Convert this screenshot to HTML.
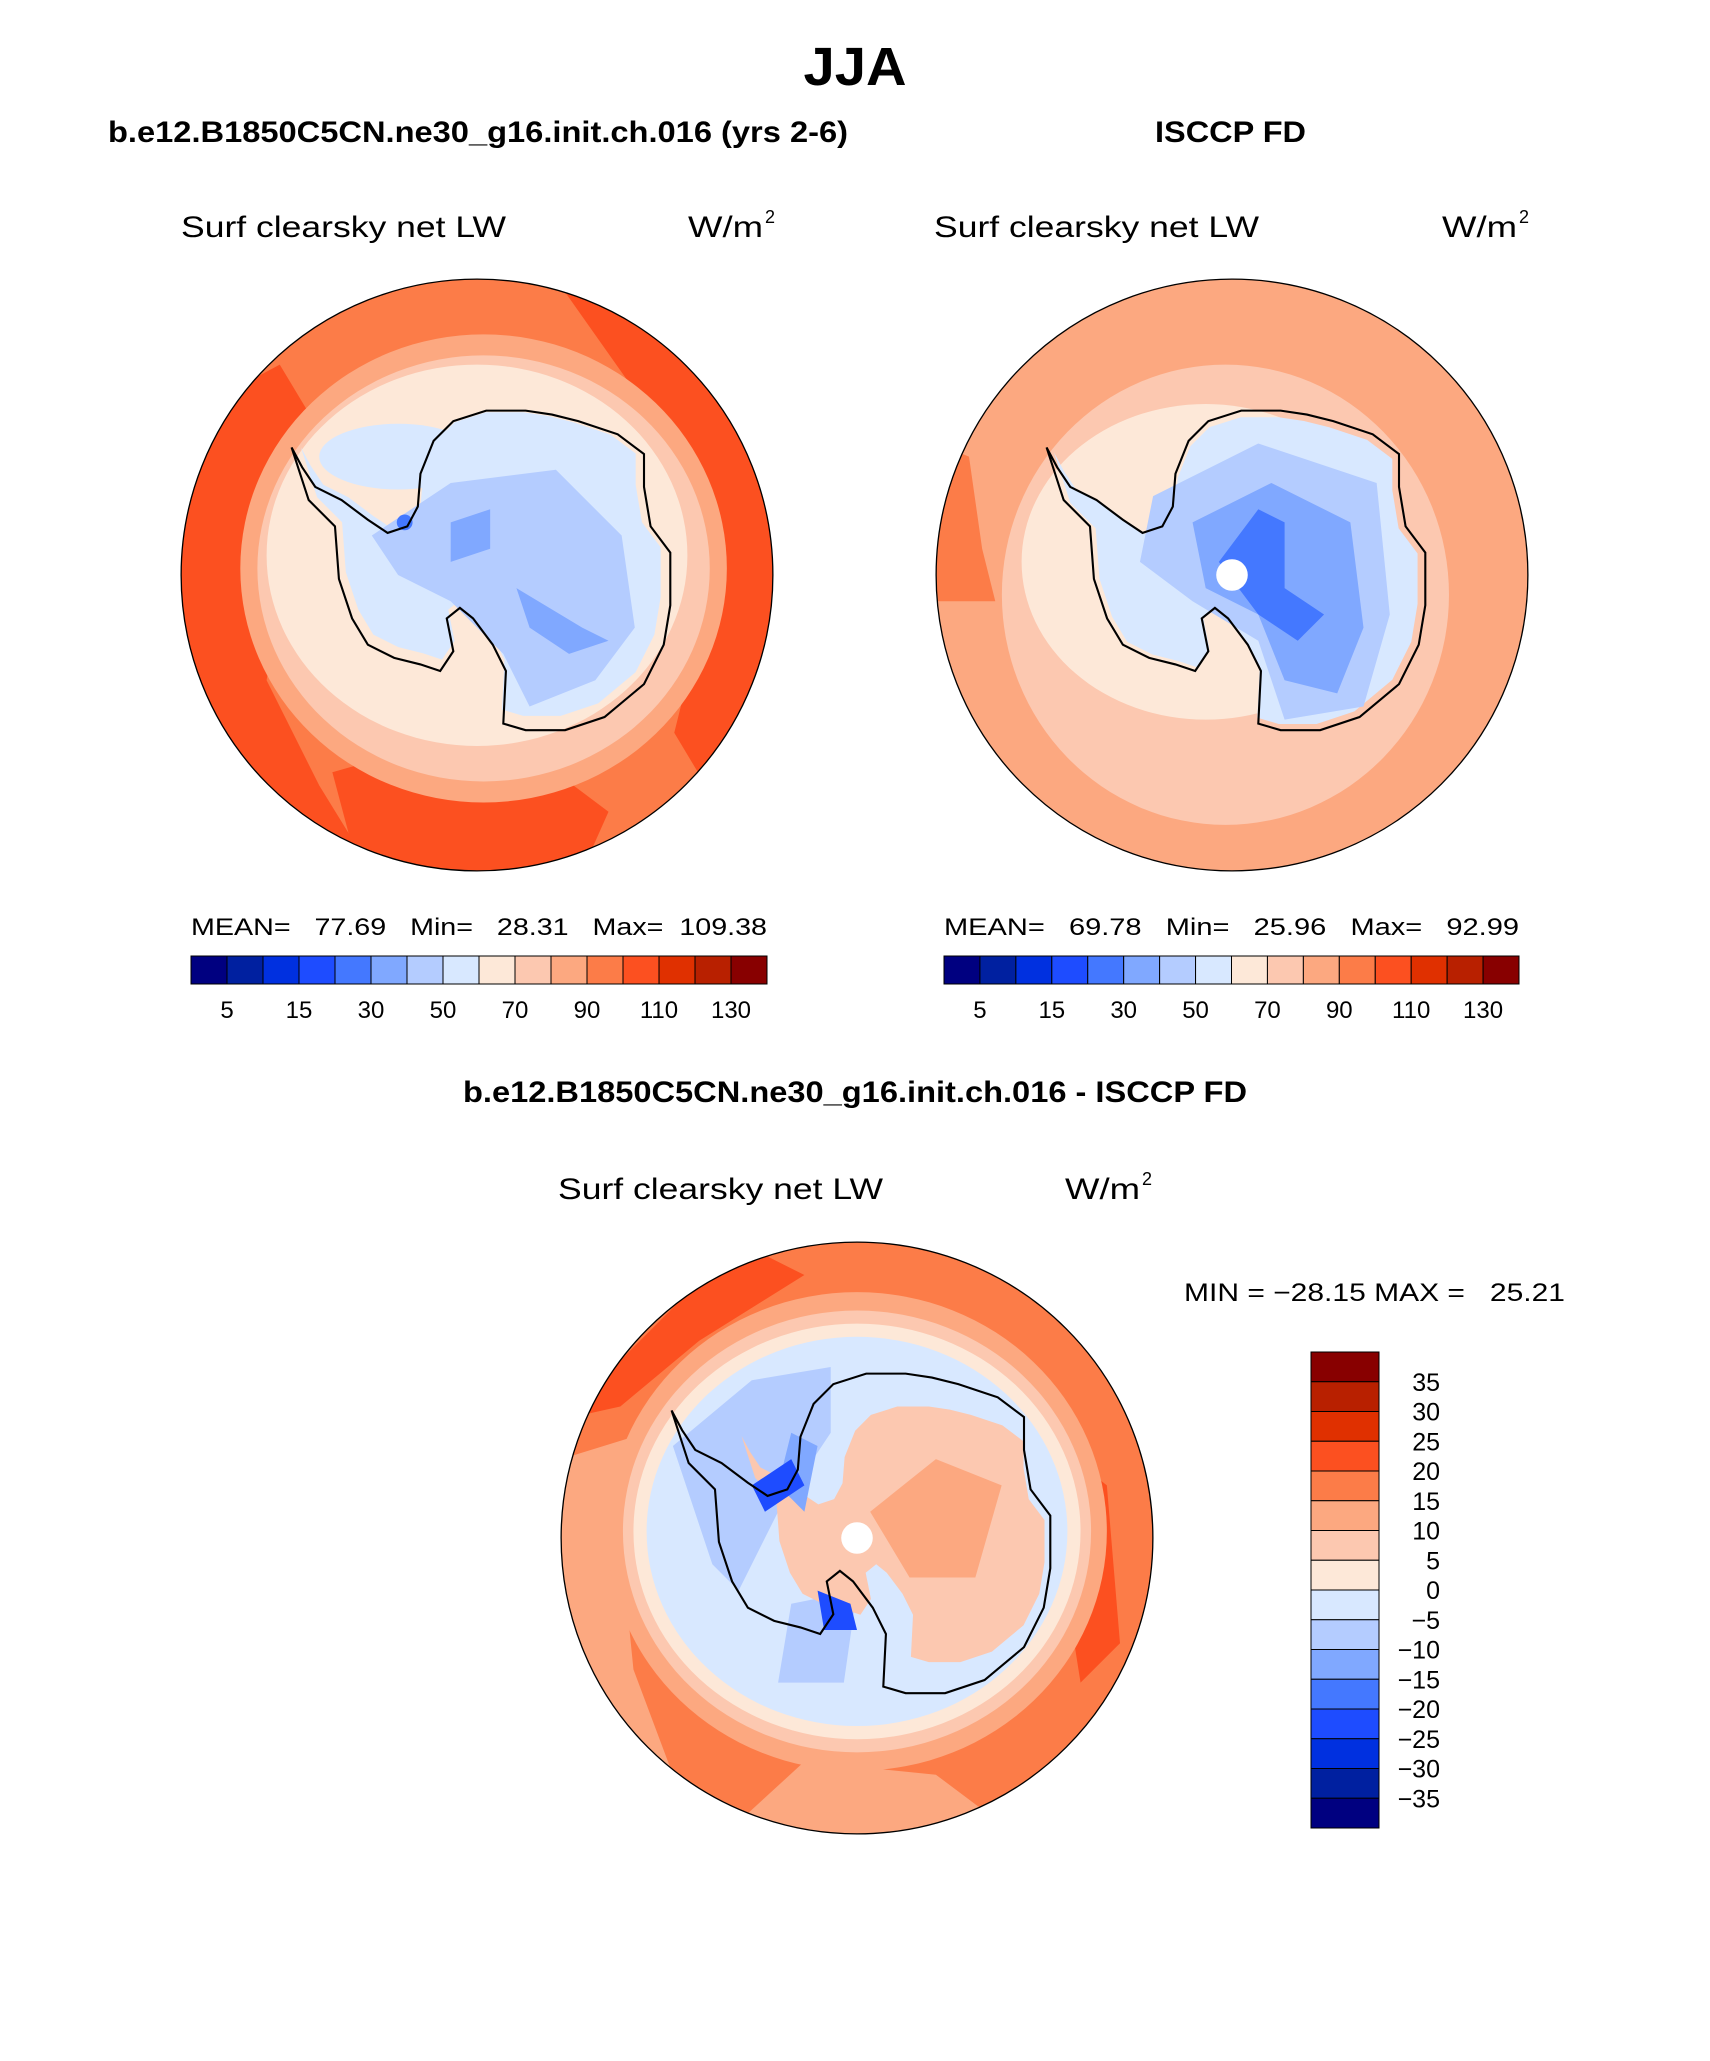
<!DOCTYPE html>
<html><head><meta charset="utf-8"><style>
html,body{margin:0;padding:0;background:#fff;}
svg{display:block;}
text{font-family:"Liberation Sans",sans-serif;fill:#000;}
</style></head><body>
<svg id="fig" width="1710" height="2061" viewBox="0 0 1710 2061">
<defs>
<clipPath id="cc"><circle cx="0" cy="0" r="225"/></clipPath>
<path id="ant" d="M-141,-97 L-128,-57 L-108,-37 L-105,3 L-95,33 L-83,53 L-63,63 L-43,68 L-28,73 L-18,58 L-23,33 L-13,25 L-3,33 L12,53 L22,73 L20,113 L37,118 L67,118 L97,108 L127,83 L142,53 L147,23 L147,-17 L132,-37 L127,-67 L127,-92 L107,-107 L77,-117 L57,-122 L37,-125 L7,-125 L-18,-117 L-33,-102 L-43,-77 L-45,-52 L-53,-37 L-68,-32 L-83,-42 L-103,-57 L-123,-67 L-133,-82 Z"/>
</defs>

<text x="855" y="85" font-size="54" font-weight="bold" text-anchor="middle" textLength="103" lengthAdjust="spacingAndGlyphs">JJA</text>
<text x="108" y="142" font-size="30" font-weight="bold" textLength="740" lengthAdjust="spacingAndGlyphs">b.e12.B1850C5CN.ne30_g16.init.ch.016 (yrs 2-6)</text>
<text x="1155" y="142" font-size="30" font-weight="bold" textLength="151" lengthAdjust="spacingAndGlyphs">ISCCP FD</text>

<text x="181" y="237" font-size="30" textLength="325" lengthAdjust="spacingAndGlyphs">Surf clearsky net LW</text>
<text x="688" y="237" font-size="30" textLength="75" lengthAdjust="spacingAndGlyphs">W/m</text>
<text x="765" y="223" font-size="18">2</text>
<text x="934" y="237" font-size="30" textLength="325" lengthAdjust="spacingAndGlyphs">Surf clearsky net LW</text>
<text x="1442" y="237" font-size="30" textLength="75" lengthAdjust="spacingAndGlyphs">W/m</text>
<text x="1519" y="223" font-size="18">2</text>

<!-- Left map -->
<g transform="translate(477,575) scale(1.315)">
 <g clip-path="url(#cc)">
  <circle r="225" fill="#fc7c48"/>
  <path d="M-225,-120 L-150,-160 L-120,-110 L-140,-40 L-160,80 L-120,160 L-80,225 L-225,225 Z" fill="#fc5020"/>
  <path d="M60,-225 L225,-225 L225,120 L180,170 L150,120 L170,40 L160,-60 L120,-140 Z" fill="#fc5020"/>
  <path d="M-110,150 L-40,130 L60,150 L100,180 L80,225 L-90,225 Z" fill="#fc5020"/>
  <ellipse cx="5" cy="-5" rx="185" ry="178" fill="#fca880"/>
  <ellipse cx="5" cy="-5" rx="172" ry="162" fill="#fcc8b0"/>
  <ellipse cx="0" cy="-15" rx="160" ry="145" fill="#fde8d8"/>
  <use href="#ant" fill="#d8e8ff" transform="translate(0,-5) scale(0.95)"/>
  <ellipse cx="-60" cy="-90" rx="60" ry="25" fill="#d8e8ff"/>
  <path d="M-80,-30 L-20,-70 L60,-80 L110,-30 L120,40 L90,80 L40,100 L20,60 L-20,20 L-60,0 Z" fill="#b4ccff"/>
  <path d="M-20,-40 L10,-50 L10,-20 L-20,-10 Z" fill="#80a8ff"/>
  <path d="M30,10 L80,40 L100,50 L70,60 L40,40 Z" fill="#80a8ff"/>
  <circle cx="-55" cy="-40" r="6" fill="#4478ff"/>
 </g>
 <use href="#ant" fill="none" stroke="#000" stroke-width="1.6"/>
 <circle r="225" fill="none" stroke="#000" stroke-width="1"/>
</g>

<!-- Right map -->
<g transform="translate(1232,575) scale(1.315)">
 <g clip-path="url(#cc)">
  <circle r="225" fill="#fca880"/>
  <path d="M-225,-100 L-200,-90 L-190,-20 L-180,20 L-225,20 Z" fill="#fc7c48"/>
  <ellipse cx="-5" cy="15" rx="170" ry="175" fill="#fcc8b0"/>
  <ellipse cx="-20" cy="-10" rx="140" ry="120" fill="#fde8d8"/>
  <use href="#ant" fill="#d8e8ff" transform="translate(0,0) scale(0.96)"/>
  <path d="M-60,-60 L20,-100 L110,-70 L120,30 L100,100 L40,110 L20,50 L-30,20 L-70,-10 Z" fill="#b4ccff"/>
  <path d="M-30,-40 L30,-70 L90,-40 L100,40 L80,90 L40,80 L20,30 L-20,10 Z" fill="#80a8ff"/>
  <path d="M-10,-10 L20,-50 L40,-40 L40,10 L70,30 L50,50 L20,30 Z" fill="#4478ff"/>
  <circle cx="0" cy="0" r="12" fill="#fff"/>
 </g>
 <use href="#ant" fill="none" stroke="#000" stroke-width="1.6"/>
 <circle r="225" fill="none" stroke="#000" stroke-width="1"/>
</g>

<text x="191" y="935" font-size="24" textLength="576" lengthAdjust="spacingAndGlyphs" xml:space="preserve">MEAN=   77.69   Min=   28.31   Max=  109.38</text>
<text x="944" y="935" font-size="24" textLength="575" lengthAdjust="spacingAndGlyphs" xml:space="preserve">MEAN=   69.78   Min=   25.96   Max=   92.99</text>
<g id="cbL"></g>
<g id="cbR"></g>

<text x="463" y="1102" font-size="30" font-weight="bold" textLength="784" lengthAdjust="spacingAndGlyphs">b.e12.B1850C5CN.ne30_g16.init.ch.016 - ISCCP FD</text>
<text x="558" y="1199" font-size="30" textLength="325" lengthAdjust="spacingAndGlyphs">Surf clearsky net LW</text>
<text x="1065" y="1199" font-size="30" textLength="75" lengthAdjust="spacingAndGlyphs">W/m</text>
<text x="1142" y="1185" font-size="18">2</text>

<!-- Diff map -->
<g transform="translate(857,1538) scale(1.315)">
 <g clip-path="url(#cc)">
  <circle r="225" fill="#fc7c48"/>
  <path d="M-225,-60 L-160,-80 L-180,0 L-170,100 L-140,180 L-80,225 L-225,225 Z" fill="#fca880"/>
  <path d="M-100,225 L-40,170 L60,180 L120,225 Z" fill="#fca880"/>
  <path d="M-90,-225 L-40,-200 L-120,-150 L-180,-100 L-225,-90 Z" fill="#fc5020"/>
  <path d="M140,-80 L190,-40 L200,80 L170,110 Z" fill="#fc5020"/>
  <path d="M-130,40 L-100,50 L-100,110 L-120,130 Z" fill="#fc5020"/>
  <ellipse cx="0" cy="-5" rx="190" ry="182" fill="#fca880"/>
  <ellipse cx="0" cy="-5" rx="178" ry="168" fill="#fcc8b0"/>
  <ellipse cx="0" cy="-5" rx="170" ry="158" fill="#fde8d8"/>
  <ellipse cx="0" cy="-5" rx="160" ry="148" fill="#d8e8ff"/>
  <path d="M-140,-70 L-80,-120 L-20,-130 L-20,-80 L-60,-20 L-90,40 L-110,20 Z" fill="#b4ccff"/>
  <path d="M-50,50 L0,40 L-10,110 L-60,110 Z" fill="#b4ccff"/>
  <use href="#ant" fill="#fcc8b0" transform="translate(25,0) scale(0.8)"/>
  <path d="M10,-20 L60,-60 L110,-40 L90,30 L40,30 Z" fill="#fca880"/>
  <path d="M-50,-80 L-30,-70 L-40,-20 L-60,-40 Z" fill="#80a8ff"/>
  <path d="M-80,-40 L-50,-60 L-40,-40 L-70,-20 Z" fill="#1e4cff"/>
  <path d="M-30,40 L-5,50 L0,70 L-25,70 Z" fill="#1e4cff"/>
  <circle cx="0" cy="0" r="12" fill="#fff"/>
 </g>
 <use href="#ant" fill="none" stroke="#000" stroke-width="1.6"/>
 <circle r="225" fill="none" stroke="#000" stroke-width="1"/>
</g>

<text x="1184" y="1301" font-size="25" textLength="381" lengthAdjust="spacingAndGlyphs" xml:space="preserve">MIN = −28.15 MAX =   25.21</text>
<g id="cbV"></g>
</svg>
<script>
const colors = ["#000080","#0020a0","#0030e0","#1e4cff","#4478ff","#80a8ff","#b4ccff","#d8e8ff","#fde8d8","#fcc8b0","#fca880","#fc7c48","#fc5020","#e03000","#b82000","#880000"];
const absLabels = ["5","15","30","50","70","90","110","130"];
const diffLabels = ["35","30","25","20","15","10","5","0","−5","−10","−15","−20","−25","−30","−35"];
const NS = "http://www.w3.org/2000/svg";
function mk(tag, attrs, parent){const e=document.createElementNS(NS,tag);for(const k in attrs)e.setAttribute(k,attrs[k]);parent.appendChild(e);return e;}
function hbar(id, x0, x1, y0, y1){
  const g=document.getElementById(id); const w=(x1-x0)/colors.length;
  colors.forEach((c,i)=>{
    const r=mk("rect",{x:x0+i*w,y:y0,width:w,height:y1-y0,fill:c,stroke:"#000","stroke-width":1},g);
    
    
  });
  absLabels.forEach((t,i)=>{
    const tx=mk("text",{x:x0+(2*i+1)*w,y:y1+34,"font-size":24,"text-anchor":"middle"},g);
    tx.textContent=t;
    
    
  });
}
hbar("cbL",191,767,956,984);
hbar("cbR",944,1519,956,984);
(function(){
  const g=document.getElementById("cbV"); const x0=1311,x1=1379,y0=1352,y1=1828;
  const h=(y1-y0)/colors.length;
  colors.slice().reverse().forEach((c,i)=>{
    const r=mk("rect",{x:x0,y:y0+i*h,width:x1-x0,height:h,fill:c,stroke:"#000","stroke-width":1},g);
    
    
  });
  diffLabels.forEach((t,i)=>{
    const tx=mk("text",{x:1440,y:y0+(i+1)*h+9,"font-size":25,"text-anchor":"end"},g);
    tx.textContent=t;
    
    
  });
})();
</script>
</body></html>
